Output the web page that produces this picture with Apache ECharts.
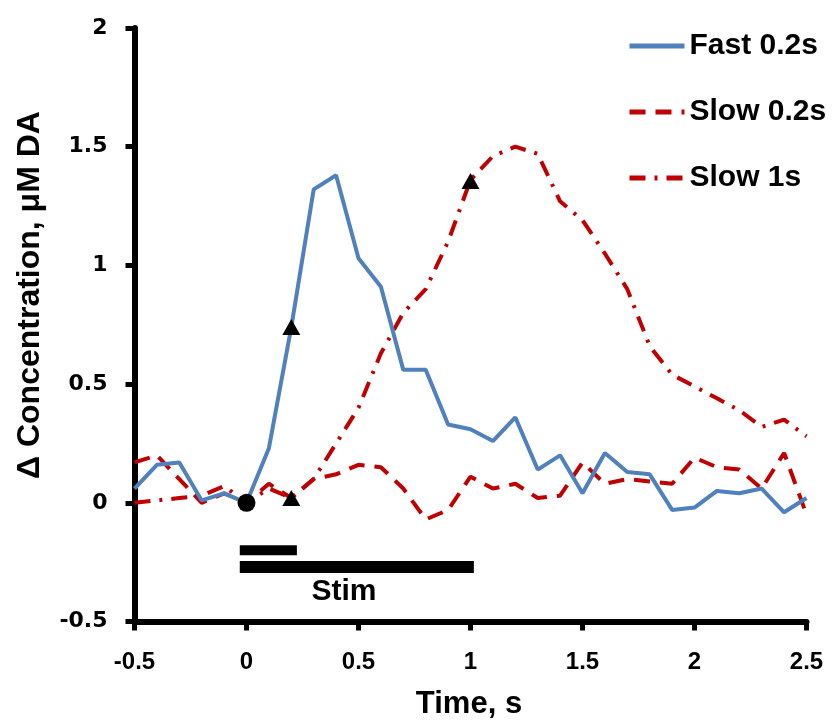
<!DOCTYPE html>
<html>
<head>
<meta charset="utf-8">
<script src="https://cdn.jsdelivr.net/npm/echarts@6/dist/echarts.min.js"></script>
<style>
  html, body { margin: 0; padding: 0; background: #fff; }
  #chart { width: 835px; height: 723px; }
</style>
</head>
<body>
<div id="chart"></div>
<script>
// time points, s (step 0.1)
const times = [-0.5, -0.4, -0.3, -0.2, -0.1, 0, 0.1, 0.2, 0.3, 0.4, 0.5, 0.6, 0.7, 0.8, 0.9, 1.0,
  1.1, 1.2, 1.3, 1.4, 1.5, 1.6, 1.7, 1.8, 1.9, 2.0, 2.1, 2.2, 2.3, 2.4, 2.5];

const fast02 = [0.06, 0.16, 0.17, 0.01, 0.04, 0, 0.23, 0.74, 1.32, 1.38, 1.03, 0.91, 0.56, 0.56, 0.33, 0.31,
  0.26, 0.36, 0.14, 0.2, 0.04, 0.21, 0.13, 0.12, -0.03, -0.02, 0.05, 0.04, 0.06, -0.04, 0.02];

const slow02 = [0.17, 0.2, 0.1, 0.0, 0.04, 0.0, 0.08, 0.02, 0.1, 0.12, 0.16, 0.15, 0.06, -0.07, -0.03, 0.11,
  0.06, 0.08, 0.02, 0.03, 0.17, 0.08, 0.1, 0.09, 0.08, 0.19, 0.15, 0.14, 0.06, 0.21, -0.05];

const slow1 = [0.0, 0.01, 0.02, 0.03, 0.07, 0.0, 0.06, 0.02, 0.1, 0.25, 0.4, 0.63, 0.8, 0.9, 1.1, 1.36,
  1.46, 1.5, 1.47, 1.27, 1.19, 1.05, 0.9, 0.66, 0.54, 0.49, 0.44, 0.39, 0.32, 0.35, 0.28];

// black markers on the curves
const triangles = [[0.2, 0.74], [0.2, 0.02], [1.0, 1.355]];
const circles = [[0, 0]];

// stim bars: [start, end, level]
const stimShort = [-0.03, 0.225, -0.2];
const stimLong = [-0.03, 1.015, -0.27];

const seriesNames = ["Fast 0.2s", "Slow 0.2s", "Slow 1s"];

function pairs(values) {
  return times.map((t, i) => [t, values[i]]);
}

const bigFont = "Liberation Sans";
const red = "#C00000";
const blue = "#4F81BD";

const chart = echarts.init(document.getElementById("chart"), null, { renderer: "canvas" });

const option = {
  animation: false,
  backgroundColor: "#fff",
  grid: {
    left: 134.5,
    right: 28.5,
    top: 28,
    bottom: 101.5,
  },
  legend: {
    data: seriesNames,
    orient: "vertical",
    left: 622,
    top: 26,
    itemWidth: 55,
    itemHeight: 14,
    itemGap: 36,
    itemStyle: { opacity: 0 }, // hide the dot in the legend icon
    lineStyle: { width: 5 },
    textStyle: {
      fontFamily: bigFont,
      fontWeight: "bold",
      fontSize: 30,
      color: "#000",
    },
  },
  xAxis: {
    type: "value",
    min: -0.5,
    max: 2.5,
    interval: 0.5,
    axisLine: { onZero: false, lineStyle: { color: "#000", width: 6 } },
    axisTick: { show: true, inside: false, length: 9, lineStyle: { color: "#000", width: 5 } },
    axisLabel: {
      margin: 29,
      color: "#000",
      fontFamily: bigFont,
      fontWeight: "bold",
      fontSize: 24,
    },
    splitLine: { show: false },
  },
  yAxis: {
    type: "value",
    min: -0.5,
    max: 2,
    interval: 0.5,
    axisLine: { show: true, onZero: false, lineStyle: { color: "#000", width: 6 } },
    axisTick: { show: true, inside: false, length: 9, lineStyle: { color: "#000", width: 5 } },
    axisLabel: {
      margin: 27,
      color: "#000",
      fontFamily: "DejaVu Sans",
      fontWeight: "bold",
      fontSize: 22,
    },
    splitLine: { show: false },
  },
  graphic: [
    {
      type: "text",
      x: 30,
      y: 295,
      rotation: Math.PI / 2,
      style: {
        text: "Δ Concentration, μM DA",
        fontFamily: bigFont,
        fontWeight: "bold",
        fontSize: 32,
        fill: "#000",
        align: "center",
        verticalAlign: "middle",
      },
    },
    {
      type: "text",
      x: 469,
      y: 704,
      style: {
        text: "Time, s",
        fontFamily: bigFont,
        fontWeight: "bold",
        fontSize: 31,
        fill: "#000",
        align: "center",
        verticalAlign: "middle",
      },
    },
    {
      type: "text",
      x: 344,
      y: 592,
      style: {
        text: "Stim",
        fontFamily: bigFont,
        fontWeight: "bold",
        fontSize: 30,
        fill: "#000",
        align: "center",
        verticalAlign: "middle",
      },
    },
  ],
  series: [
    {
      name: "Fast 0.2s",
      type: "line",
      data: pairs(fast02),
      symbol: "none",
      color: blue,
      lineStyle: { color: blue, width: 4 },
      z: 3,
    },
    {
      name: "Slow 0.2s",
      type: "line",
      data: pairs(slow02),
      symbol: "none",
      color: red,
      lineStyle: { color: red, width: 4, type: [16, 10] },
      z: 2,
    },
    {
      name: "Slow 1s",
      type: "line",
      data: pairs(slow1),
      symbol: "none",
      color: red,
      lineStyle: { color: red, width: 4, type: [16, 9, 3, 9] },
      z: 2,
    },
    {
      name: "stimShort",
      type: "line",
      data: [[stimShort[0], stimShort[2]], [stimShort[1], stimShort[2]]],
      symbol: "none",
      lineStyle: { color: "#000", width: 10, cap: "butt" },
      silent: true,
    },
    {
      name: "stimLong",
      type: "line",
      data: [[stimLong[0], stimLong[2]], [stimLong[1], stimLong[2]]],
      symbol: "none",
      lineStyle: { color: "#000", width: 12, cap: "butt" },
      silent: true,
    },
    {
      name: "triangles",
      type: "scatter",
      data: triangles,
      symbol: "triangle",
      symbolSize: [18, 16],
      itemStyle: { color: "#000", opacity: 1 },
      z: 5,
    },
    {
      name: "circles",
      type: "scatter",
      data: circles,
      symbol: "circle",
      symbolSize: 18,
      itemStyle: { color: "#000", opacity: 1 },
      z: 5,
    },
  ],
};

chart.setOption(option);
</script>
</body>
</html>
